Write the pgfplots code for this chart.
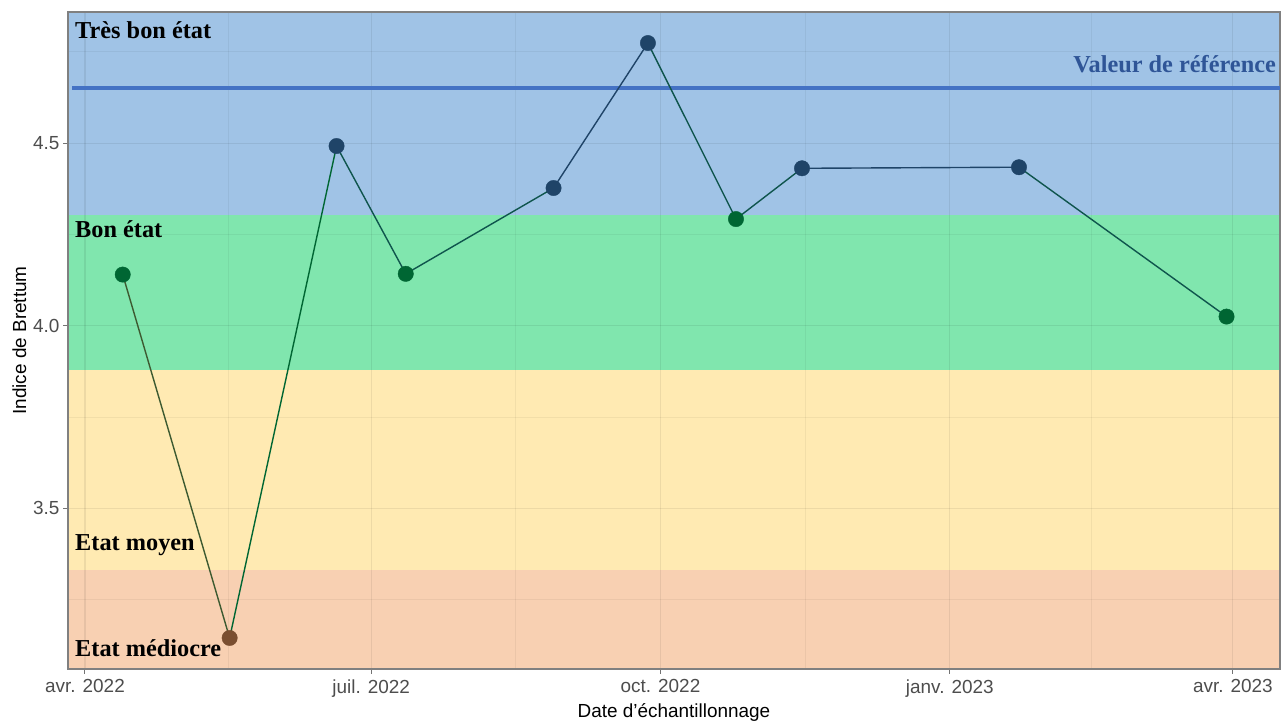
\documentclass[border=0pt]{standalone}
\usepackage{fontspec}
\setmainfont{Liberation Sans}
\newfontfamily\labelfont{Liberation Serif}
\usepackage{pgfplots}
\pgfplotsset{compat=1.18}
\usepackage{pgfplotstable}

\definecolor{bandblue}{RGB}{160,195,230}
\definecolor{bandgreen}{RGB}{128,230,174}
\definecolor{bandyellow}{RGB}{255,234,178}
\definecolor{bandred}{RGB}{248,208,178}
\definecolor{refblue}{RGB}{68,114,196}
\definecolor{reftext}{RGB}{47,85,151}
\definecolor{ptnavy}{RGB}{31,68,104}
\definecolor{ptgreen}{RGB}{0,102,51}
\definecolor{ptbrown}{RGB}{122,78,48}
\definecolor{ticktext}{RGB}{77,77,77}

% day 0 = 1 avr. 2022 ; c: 0 mediocre, 1 bon, 2 tres bon
\pgfplotstableread{
x   y     c  cls
12  4.140 1  b
46  3.145 0  m
80  4.492 2  tb
102 4.142 1  b
149 4.377 2  tb
179 4.774 2  tb
207 4.292 1  b
228 4.431 2  tb
297 4.434 2  tb
363 4.025 1  b
}\brettum

\begin{document}
\begin{tikzpicture}
\begin{axis}[
    set layers,
    scale only axis,
    width=1212bp, height=657bp,
    xmin=-5.4, xmax=380,
    ymin=3.060, ymax=4.859,
    xtick={0,91,183,275,365},
    xticklabels={avr. 2022, juil. 2022, oct. 2022, janv. 2023, avr. 2023},
    minor xtick={45.5,137,229,320},
    ytick={3.5,4.0,4.5},
    minor ytick={3.25,3.75,4.25,4.75},
    grid=both,
    major grid style={black, opacity=0.07, line width=1.1bp},
    minor grid style={black, opacity=0.05, line width=0.8bp},
    axis line style={black!50, line width=1.3bp},
    tick align=outside,
    tick pos=left,
    major tick length=5bp,
    minor tick length=0bp,
    tick style={black!55, line width=1bp},
    /pgf/number format/assume math mode=true,
    yticklabel style={/pgf/number format/.cd, fixed, fixed zerofill, precision=1},
    ticklabel style={font=\fontsize{19}{22}\selectfont, text=ticktext},
    xticklabel style={yshift=-2bp},
    xlabel={Date d'échantillonnage},
    ylabel={Indice de Brettum},
    label style={font=\fontsize{19}{22}\selectfont},
    xlabel style={yshift=0bp},
    ylabel style={yshift=0bp},
    colormap={etat}{rgb255=(122,78,48) rgb255=(0,102,51) rgb255=(31,68,104)},
    point meta min=0, point meta max=2,
]
\begin{pgfonlayer}{axis background}
\fill[bandred] (axis cs:-5.4,3.060) rectangle (axis cs:380,3.332);
\fill[bandyellow] (axis cs:-5.4,3.332) rectangle (axis cs:380,3.879);
\fill[bandgreen] (axis cs:-5.4,3.879) rectangle (axis cs:380,4.303);
\fill[bandblue] (axis cs:-5.4,4.303) rectangle (axis cs:380,4.859);
\end{pgfonlayer}

\addplot[refblue, line width=4bp] coordinates {(-4,4.651) (380,4.651)};

\addplot[mesh, point meta=explicit, line width=1.4bp] table[x=x, y=y, meta=c] {\brettum};

\addplot[scatter, only marks, mark=*, mark size=7.7bp,
    scatter src=explicit symbolic,
    scatter/classes={
        tb={mark=*, draw=ptnavy, fill=ptnavy},
        b={mark=*, draw=ptgreen, fill=ptgreen},
        m={mark=*, draw=ptbrown, fill=ptbrown}}]
    table[x=x, y=y, meta=cls] {\brettum};

\tikzset{bandlabel/.style={inner sep=0pt, font=\labelfont\bfseries\fontsize{24.4}{28}\selectfont}}
\node[bandlabel, anchor=west] at (rel axis cs:0.0058,0.9726) {Très bon état};
\node[bandlabel, anchor=west] at (rel axis cs:0.0058,0.670) {Bon état};
\node[bandlabel, anchor=west] at (rel axis cs:0.0058,0.189) {Etat moyen};
\node[bandlabel, anchor=west] at (rel axis cs:0.0058,0.032) {Etat médiocre};
\node[bandlabel, anchor=east, text=reftext] at (rel axis cs:0.9967,0.921) {Valeur de référence};
\end{axis}
\path (-68bp,-51bp) rectangle (1214bp,669bp);
\end{tikzpicture}
\end{document}
